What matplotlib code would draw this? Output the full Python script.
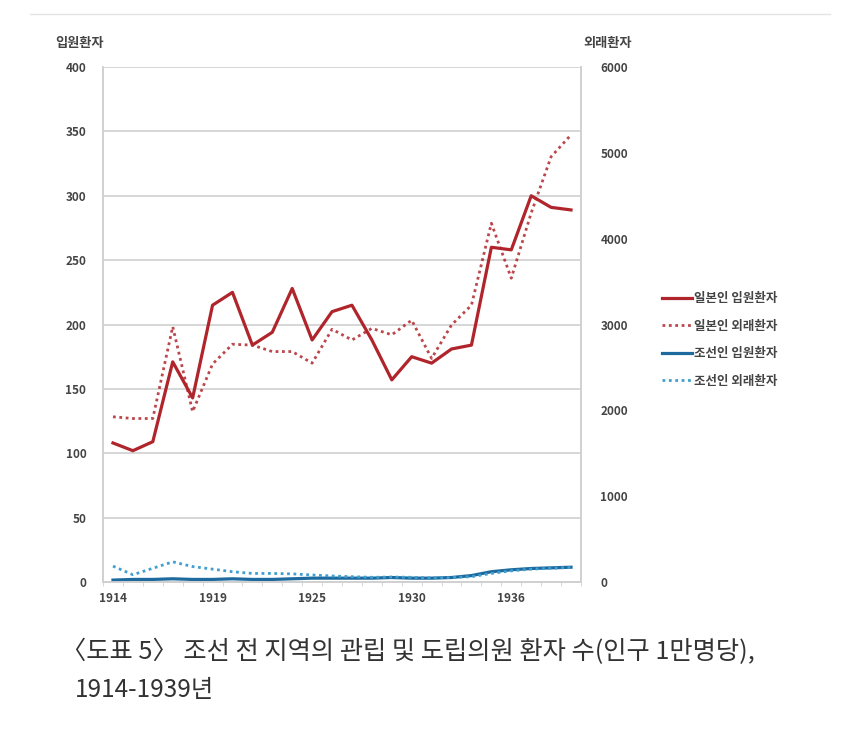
import matplotlib
matplotlib.use("Agg")
import matplotlib.pyplot as plt
from matplotlib.lines import Line2D
import numpy as np

plt.rcParams['font.family'] = ['Noto Sans CJK KR', 'DejaVu Sans']

# 24 annual points, 1914-1939 (some years missing in the source)
tick_pos = [0, 5, 10, 15, 20]
tick_labels = ['1914', '1919', '1925', '1930', '1936']

jp_inpatient = [108, 102, 109, 171, 143, 215, 225, 184, 194, 228, 188, 210,
                215, 188, 157, 175, 170, 181, 184, 260, 258, 300, 291, 289]
jp_outpatient = [1925, 1905, 1905, 2975, 1985, 2540, 2770, 2760, 2685, 2685, 2550, 2945,
                 2820, 2955, 2880, 3050, 2605, 2995, 3225, 4180, 3540, 4300, 4955, 5210]
kr_inpatient = [1.5, 2, 2, 2.5, 2, 2, 2.5, 2, 2, 2.5, 3, 3,
                3, 3, 3.5, 3, 3, 3.5, 5, 8, 9.5, 10.5, 11, 11.5]
kr_outpatient = [185, 85, 160, 235, 180, 150, 120, 100, 100, 95, 82, 70,
                 62, 55, 58, 55, 48, 52, 62, 100, 130, 150, 160, 170]

labels = ['일본인 입원환자', '일본인 외래환자', '조선인 입원환자', '조선인 외래환자']

red = '#b0252b'
blue = '#1e6a9e'
blue_light = '#3f9fd0'
grid_c = '#d0d0d0'
text_c = '#444444'

fig = plt.figure(figsize=(8.5, 7.54), dpi=100)
ax = fig.add_axes([0.1212, 0.2281, 0.5623, 0.683])
ax2 = ax.twinx()

x = np.arange(len(jp_inpatient))

l1, = ax.plot(x, jp_inpatient, color=red, lw=2.3, label=labels[0], zorder=4)
l3, = ax.plot(x, kr_inpatient, color=blue, lw=2.3, label=labels[2], zorder=4)
l2, = ax2.plot(x, jp_outpatient, color=red, lw=2.0, ls=(0, (1, 1.3)), label=labels[1], alpha=0.85)
l4, = ax2.plot(x, kr_outpatient, color=blue_light, lw=2.0, ls=(0, (1, 1.3)), label=labels[3])

ax.set_xlim(-0.5, len(x) - 0.5)
ax.set_ylim(0, 400)
ax.set_yticks(range(0, 401, 50))
ax2.set_ylim(0, 6000)
ax2.set_yticks(range(0, 6001, 1000))

ax.set_xticks(tick_pos)
ax.set_xticklabels(tick_labels, fontweight='bold')
ax.set_xticks(np.arange(-0.5, len(x), 1), minor=True)
ax.tick_params(axis='x', which='major', length=0, pad=7, labelsize=8.5, labelcolor=text_c)
ax.tick_params(axis='x', which='minor', length=3, color=grid_c)
ax.tick_params(axis='y', length=0, pad=12, labelsize=8.5, labelcolor=text_c)
ax2.tick_params(axis='y', length=0, pad=14, labelsize=8.5, labelcolor=text_c)
for t in ax.get_yticklabels() + ax2.get_yticklabels():
    t.set_fontweight('bold')

ax.yaxis.grid(True, color=grid_c, lw=1.2)
ax.set_axisbelow(True)
for a in (ax, ax2):
    for s in a.spines.values():
        s.set_color(grid_c)
        s.set_linewidth(1.2)
    a.spines['top'].set_visible(False)

fig.text(0.065, 0.943, '입원환자', fontsize=9.5, color=text_c, fontweight='bold', va='center')
fig.text(0.686, 0.943, '외래환자', fontsize=9.5, color=text_c, fontweight='bold', va='center')

fig.legend(handles=[l1, l2, l3, l4], loc='center left', bbox_to_anchor=(0.765, 0.549),
           frameon=False, prop={'size': 9, 'weight': 'bold'}, handlelength=2.4,
           handletextpad=0.2, labelspacing=1.15, labelcolor=text_c)

fig.text(0.072, 0.135, '〈도표 5〉 조선 전 지역의 관립 및 도립의원 환자 수(인구 1만명당),',
         fontsize=18.2, color='#333333', va='center', fontweight='medium')
fig.text(0.088, 0.085, '1914-1939년', fontsize=17.5, color='#333333', va='center',
         fontweight='medium')

fig.add_artist(Line2D([0.035, 0.977], [0.981, 0.981], color='#e4e4e4', lw=1.0))

fig.savefig('out.png', dpi=100)
